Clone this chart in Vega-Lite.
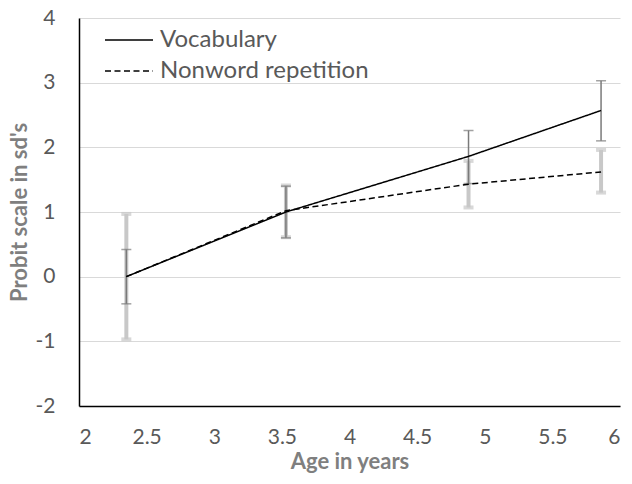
{
  "$schema": "https://vega.github.io/schema/vega-lite/v6.json",
  "autosize": "none",
  "width": 541,
  "height": 388,
  "padding": {"left": 79, "top": 18, "right": 12, "bottom": 78},
  "background": "white",
  "config": {
    "view": {"stroke": null},
    "font": "Lato"
  },
  "data": {
    "values": [
      {"series": "Vocabulary", "age": 2.35, "value": 0.0, "lo": -0.42, "hi": 0.42},
      {"series": "Vocabulary", "age": 3.53, "value": 1.0, "lo": 0.6, "hi": 1.4},
      {"series": "Vocabulary", "age": 4.88, "value": 1.86, "lo": 1.44, "hi": 2.26},
      {"series": "Vocabulary", "age": 5.86, "value": 2.57, "lo": 2.1, "hi": 3.03},
      {"series": "Nonword repetition", "age": 2.35, "value": 0.0, "lo": -0.97, "hi": 0.97},
      {"series": "Nonword repetition", "age": 3.53, "value": 1.02, "lo": 0.61, "hi": 1.41},
      {"series": "Nonword repetition", "age": 4.88, "value": 1.43, "lo": 1.07, "hi": 1.79},
      {"series": "Nonword repetition", "age": 5.86, "value": 1.62, "lo": 1.3, "hi": 1.96}
    ]
  },
  "encoding": {
    "x": {
      "field": "age", "type": "quantitative",
      "scale": {"domain": [2, 6], "nice": false, "zero": false},
      "axis": {
        "title": "Age in years", "values": [2, 2.5, 3, 3.5, 4, 4.5, 5, 5.5, 6],
        "labelExpr": "datum.value + ''",
        "grid": false, "ticks": false, "domainColor": "#000000", "domainWidth": 1.5,
        "labelFontSize": 21, "labelColor": "#595959", "labelPadding": 20,
        "titleFontSize": 22, "titleFontWeight": "bold", "titleColor": "#7f7f7f", "titlePadding": 4
      }
    }
  },
  "layer": [
    {
      "transform": [{"filter": "datum.series === 'Nonword repetition'"}],
      "mark": {"type": "rule", "color": "#c8c8c8", "strokeWidth": 4},
      "encoding": {
        "y": {"field": "lo", "type": "quantitative", "scale": {"domain": [-2, 4], "nice": false, "zero": false},
          "axis": {
            "title": "Probit scale  in sd's", "values": [-2, -1, 0, 1, 2, 3, 4],
            "labelExpr": "datum.value + ''",
            "grid": true, "gridColor": "#d9d9d9", "gridWidth": 1.2, "ticks": false,
            "domainColor": "#000000", "domainWidth": 1.5,
            "labelFontSize": 21, "labelColor": "#595959", "labelPadding": 24,
            "titleFontSize": 22, "titleFontWeight": "bold", "titleColor": "#7f7f7f", "titlePadding": 4
          }},
        "y2": {"field": "hi"}
      }
    },
    {
      "transform": [{"filter": "datum.series === 'Nonword repetition'"}],
      "mark": {"type": "tick", "color": "#c8c8c8", "thickness": 4, "size": 10, "orient": "horizontal"},
      "encoding": {"y": {"field": "lo", "type": "quantitative"}}
    },
    {
      "transform": [{"filter": "datum.series === 'Nonword repetition'"}],
      "mark": {"type": "tick", "color": "#c8c8c8", "thickness": 4, "size": 10, "orient": "horizontal"},
      "encoding": {"y": {"field": "hi", "type": "quantitative"}}
    },
    {
      "transform": [{"filter": "datum.series === 'Vocabulary'"}],
      "mark": {"type": "rule", "color": "#7a7a7a", "strokeWidth": 1.5},
      "encoding": {
        "y": {"field": "lo", "type": "quantitative"},
        "y2": {"field": "hi"}
      }
    },
    {
      "transform": [{"filter": "datum.series === 'Vocabulary'"}],
      "mark": {"type": "tick", "color": "#7a7a7a", "thickness": 1.5, "size": 10, "orient": "horizontal"},
      "encoding": {"y": {"field": "lo", "type": "quantitative"}}
    },
    {
      "transform": [{"filter": "datum.series === 'Vocabulary'"}],
      "mark": {"type": "tick", "color": "#7a7a7a", "thickness": 1.5, "size": 10, "orient": "horizontal"},
      "encoding": {"y": {"field": "hi", "type": "quantitative"}}
    },
    {
      "mark": {"type": "line", "color": "#000000", "strokeWidth": 1.5},
      "encoding": {
        "y": {"field": "value", "type": "quantitative"},
        "strokeDash": {
          "field": "series", "type": "nominal",
          "scale": {"domain": ["Vocabulary", "Nonword repetition"], "range": [[1, 0], [6, 3.5]]},
          "legend": {
            "title": null, "orient": "none", "legendX": 37, "legendY": 9,
            "symbolType": "M-2,0H2", "symbolSize": 576, "symbolStrokeWidth": 1.5,
            "symbolStrokeColor": "#000000", "symbolFillColor": "transparent",
            "labelFontSize": 24, "labelColor": "#595959", "labelOffset": 18, "labelLimit": 400,
            "rowPadding": 6
          }
        }
      }
    }
  ]
}
